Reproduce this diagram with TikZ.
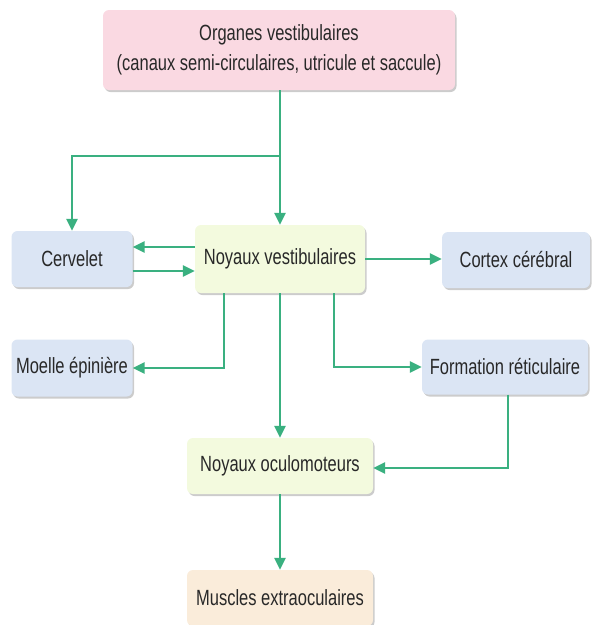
\documentclass[tikz,border=0pt]{standalone}
\usepackage{fontspec}
\setmainfont{Liberation Sans}[FakeStretch=0.75]
\usepackage{tikz}
\usetikzlibrary{arrows.meta,shadows}

\definecolor{rose}{RGB}{250,217,226}
\definecolor{bleu}{RGB}{219,229,244}
\definecolor{jaune}{RGB}{243,250,222}
\definecolor{beige}{RGB}{250,236,218}
\definecolor{vertfl}{RGB}{58,176,128}
\definecolor{txtgris}{RGB}{40,40,40}

\tikzset{
  boite/.style={rectangle, rounded corners=6pt, inner sep=0pt, align=center,
    text=txtgris, font=\fontsize{22}{30}\selectfont,
    drop shadow={shadow xshift=1.5pt, shadow yshift=-2pt, fill=black!40}},
  fleche/.style={draw=vertfl, line width=2.8pt, -{Triangle[length=12pt,width=11pt]}}
}

\begin{document}
\begin{tikzpicture}[x=1pt,y=1pt,yscale=-1,xscale=1]
\useasboundingbox (0,0) rectangle (594,625);

% Boites
\node (organes) [boite, fill=rose, minimum width=352pt, minimum height=80pt] at (279,50)
  {Organes vestibulaires\\(canaux semi-circulaires, utricule et saccule)};
\node (cervelet) [boite, fill=bleu, minimum width=121pt, minimum height=56pt] at (72,259) {Cervelet};
\node (noyvest) [boite, fill=jaune, minimum width=170pt, minimum height=68pt] at (280,259) {Noyaux vestibulaires};
\node (cortex) [boite, fill=bleu, minimum width=148pt, minimum height=56pt] at (516,260) {Cortex cérébral};
\node (moelle) [boite, fill=bleu, minimum width=121pt, minimum height=57pt] at (72,368) {Moelle épinière};
\node (formation) [boite, fill=bleu, minimum width=166pt, minimum height=55pt] at (505,367) {Formation réticulaire};
\node (noyocu) [boite, fill=jaune, minimum width=186pt, minimum height=56pt] at (280,466) {Noyaux oculomoteurs};
\node (muscles) [boite, fill=beige, minimum width=186pt, minimum height=56pt] at (280,598) {Muscles extraoculaires};

% Fleches
\coordinate (embr) at (280,156);
\draw [fleche] (organes.south -| noyvest.north) -- (noyvest.north);
\draw [fleche] (embr) -| (cervelet.north);
\draw [fleche] ([yshift=-12pt]noyvest.west) -- ([yshift=-12pt]noyvest.west -| cervelet.east);
\draw [fleche] ([yshift=12pt]noyvest.west -| cervelet.east) -- ([yshift=12pt]noyvest.west);
\draw [fleche] (noyvest.east) -- (noyvest.east -| cortex.west);
\draw [fleche] ([xshift=-56pt]noyvest.south) |- (moelle.east);
\draw [fleche] ([xshift=54pt]noyvest.south) |- (formation.west);
\draw [fleche] (noyvest.south) -- (noyocu.north);
\draw [fleche] ([xshift=3pt]formation.south) |- ([yshift=2pt]noyocu.east);
\draw [fleche] (noyocu.south) -- (muscles.north);

\end{tikzpicture}
\end{document}
